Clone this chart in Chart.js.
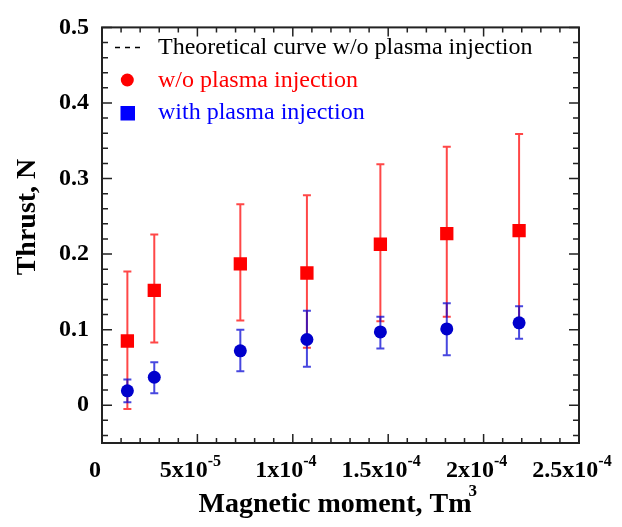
<!DOCTYPE html>
<html>
<head>
<meta charset="utf-8">
<script src="https://cdn.jsdelivr.net/npm/chart.js@4.4.1/dist/chart.umd.min.js"></script>
<style>
  html, body { margin: 0; padding: 0; background: #fff; }
  #wrap { width: 622px; height: 527px; }
</style>
</head>
<body>
<div id="wrap"><canvas id="myChart" width="622" height="527"></canvas></div>
<script>
// magnetic moment, Tm^3
const moment = [1.33e-5, 2.74e-5, 7.25e-5, 1.074e-4, 1.459e-4, 1.807e-4, 2.186e-4];

// w/o plasma injection (red squares)
const thrustWo = [0.085, 0.152, 0.187, 0.175, 0.213, 0.227, 0.231];
const woHigh = [0.177, 0.226, 0.266, 0.278, 0.319, 0.342, 0.359];
const woLow = [-0.005, 0.083, 0.112, 0.076, 0.111, 0.117, 0.105];

// with plasma injection (blue circles)
const thrustWith = [0.019, 0.037, 0.072, 0.087, 0.097, 0.101, 0.109];
const withHigh = [0.034, 0.057, 0.100, 0.125, 0.117, 0.135, 0.131];
const withLow = [0.004, 0.016, 0.045, 0.051, 0.075, 0.066, 0.088];

const yTicks = [0, 0.1, 0.2, 0.3, 0.4, 0.5];
const yTickLabels = ["0", "0.1", "0.2", "0.3", "0.4", "0.5"];
const xTicks = [0, 5e-5, 1e-4, 1.5e-4, 2e-4, 2.5e-4];
const xTickBase = ["0", "5x10", "1x10", "1.5x10", "2x10", "2.5x10"];
const xTickExp = ["", "-5", "-4", "-4", "-4", "-4"];

const legendLabels = ["Theoretical curve w/o plasma injection", "w/o plasma injection", "with plasma injection"];
const legendColors = ["#000000", "#ff0000", "#0000ff"];

const serif = "'Liberation Serif', 'Times New Roman', serif";

const drawBars = (ctx, xs, ys, lo, hi, color) => {
  ctx.save();
  ctx.strokeStyle = color;
  ctx.lineWidth = 2;
  ctx.beginPath();
  for (let i = 0; i < moment.length; i++) {
    const px = xs.getPixelForValue(moment[i]);
    const top = ys.getPixelForValue(hi[i]);
    const bot = ys.getPixelForValue(lo[i]);
    ctx.moveTo(px, top);
    ctx.lineTo(px, bot);
    ctx.moveTo(px - 4, top);
    ctx.lineTo(px + 4, top);
    ctx.moveTo(px - 4, bot);
    ctx.lineTo(px + 4, bot);
  }
  ctx.stroke();
  ctx.restore();
};

const framePlugin = {
  id: "framePlugin",
  beforeDatasetsDraw(chart) {
    const ctx = chart.ctx;
    const xs = chart.scales.x;
    const ys = chart.scales.y;
    drawBars(ctx, xs, ys, woLow, woHigh, "rgba(255,0,0,0.72)");
    drawBars(ctx, xs, ys, withLow, withHigh, "rgba(0,0,210,0.72)");
  },
  afterDatasetsDraw(chart) {
    const ctx = chart.ctx;
    const a = chart.chartArea;
    const xs = chart.scales.x;
    const ys = chart.scales.y;
    ctx.save();

    // box
    ctx.strokeStyle = "#222";
    ctx.lineWidth = 2;
    ctx.strokeRect(a.left, a.top, a.right - a.left, a.bottom - a.top);

    // inward ticks
    ctx.lineWidth = 1.5;
    ctx.beginPath();
    for (let i = 0; i <= 25; i++) {
      const px = xs.getPixelForValue(i * 1e-5);
      const len = i % 5 === 0 ? 9 : 5;
      ctx.moveTo(px, a.bottom);
      ctx.lineTo(px, a.bottom - len);
      ctx.moveTo(px, a.top);
      ctx.lineTo(px, a.top + len);
    }
    for (let i = -2; i <= 25; i++) {
      const py = ys.getPixelForValue(i * 0.02);
      const len = i % 5 === 0 ? 10 : 6;
      ctx.moveTo(a.left, py);
      ctx.lineTo(a.left + len, py);
      ctx.moveTo(a.right, py);
      ctx.lineTo(a.right - len, py);
    }
    ctx.stroke();

    // x tick labels with exponents
    ctx.fillStyle = "#000";
    ctx.textBaseline = "alphabetic";
    ctx.textAlign = "left";
    for (let i = 0; i < xTicks.length; i++) {
      const px = xs.getPixelForValue(xTicks[i]) - 7;
      ctx.font = "bold 24px " + serif;
      const wb = ctx.measureText(xTickBase[i]).width;
      ctx.font = "bold 16px " + serif;
      const we = ctx.measureText(xTickExp[i]).width;
      const x0 = px - (wb + we) / 2;
      ctx.font = "bold 24px " + serif;
      ctx.fillText(xTickBase[i], x0, 476.5);
      ctx.font = "bold 16px " + serif;
      ctx.fillText(xTickExp[i], x0 + wb, 466);
    }

    // axis titles
    ctx.font = "bold 28px " + serif;
    const xt = "Magnetic moment, Tm";
    const wt = ctx.measureText(xt).width;
    const tx = 335 - wt / 2;
    ctx.fillText(xt, tx, 512);
    ctx.font = "bold 17px " + serif;
    ctx.fillText("3", tx + wt - 3, 496);

    ctx.save();
    ctx.translate(35, 217);
    ctx.rotate(-Math.PI / 2);
    ctx.font = "bold 28px " + serif;
    ctx.textAlign = "center";
    ctx.fillText("Thrust, N", 0, 0);
    ctx.restore();

    // legend
    ctx.font = "24px " + serif;
    const rows = [54, 86.5, 119];
    for (let i = 0; i < legendLabels.length; i++) {
      ctx.fillStyle = legendColors[i];
      ctx.fillText(legendLabels[i], 158, rows[i]);
    }
    ctx.strokeStyle = "#000";
    ctx.lineWidth = 1.5;
    ctx.setLineDash([5, 5]);
    ctx.beginPath();
    ctx.moveTo(115, 47.5);
    ctx.lineTo(142, 47.5);
    ctx.stroke();
    ctx.setLineDash([]);
    ctx.fillStyle = "#ff0000";
    ctx.beginPath();
    ctx.arc(127.3, 80, 6.5, 0, Math.PI * 2);
    ctx.fill();
    ctx.fillStyle = "#0000ff";
    ctx.fillRect(120.5, 106, 14.5, 14.5);

    ctx.restore();
  }
};

const ctx = document.getElementById("myChart").getContext("2d");
const myChart = new Chart(ctx, {
  type: "scatter",
  data: {
    datasets: [
      {
        label: "with plasma injection",
        data: moment.map((x, i) => ({ x: x, y: thrustWith[i] })),
        pointStyle: "circle",
        pointRadius: 6.5,
        backgroundColor: "#0000cc",
        borderWidth: 0,
      },
      {
        label: "w/o plasma injection",
        data: moment.map((x, i) => ({ x: x, y: thrustWo[i] })),
        pointStyle: "rect",
        pointRadius: 9.4,
        backgroundColor: "#ff0000",
        borderWidth: 0,
      },
    ],
  },
  options: {
    responsive: false,
    devicePixelRatio: 1,
    animation: false,
    layout: { padding: { top: 11, right: 43, left: 0, bottom: 0 } },
    plugins: { legend: { display: false }, tooltip: { enabled: false } },
    scales: {
      x: {
        type: "linear",
        min: 0,
        max: 2.5e-4,
        grid: { display: false, drawTicks: false },
        border: { display: false },
        ticks: { display: false },
        afterBuildTicks: (scale) => { scale.ticks = xTicks.map((v) => ({ value: v })); },
        afterFit: (scale) => { scale.height = 84; },
      },
      y: {
        type: "linear",
        min: -0.05,
        max: 0.5,
        grid: { display: false, drawTicks: false },
        border: { display: false },
        afterBuildTicks: (scale) => { scale.ticks = yTicks.map((v) => ({ value: v })); },
        afterFit: (scale) => { scale.width = 102; },
        ticks: {
          padding: 13,
          color: "#000",
          font: { family: serif, size: 24, weight: "bold" },
          callback: (value, index) => yTickLabels[index],
        },
      },
    },
  },
  plugins: [framePlugin],
});
</script>
</body>
</html>
